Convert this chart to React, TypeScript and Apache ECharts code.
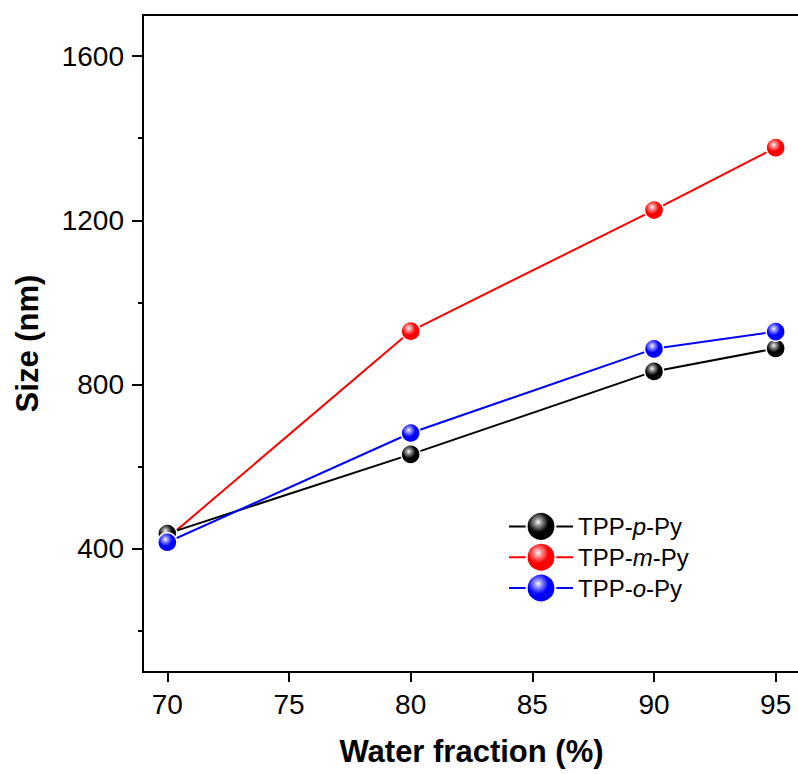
import React, { useEffect, useRef } from "react";
import * as echarts from "echarts";

// Water fraction (%) on the x axis
const waterFraction = [70, 80, 90, 95];
// Particle size (nm) for each compound
const sizePPy = [437, 630, 832, 888];
const sizeMPy = [426, 930, 1225, 1377];
const sizeOPy = [416, 682, 887, 929];

const xTicks = [70, 75, 80, 85, 90, 95];
const yMajorTicks = [400, 800, 1200, 1600];
const yMinorTicks = [200, 600, 1000, 1400];

const FONT = "'Liberation Sans', Arial, sans-serif";

function ball(color: string, glow: string) {
  return {
    type: "radial" as const,
    x: 0.4,
    y: 0.35,
    r: 0.65,
    colorStops: [
      { offset: 0, color: "#ffffff" },
      { offset: 0.18, color: glow },
      { offset: 0.55, color: color },
      { offset: 1, color: color },
    ],
  };
}

function makeSeries(name: string, values: number[], color: string, glow: string, z: number) {
  return {
    name,
    type: "line",
    z,
    data: waterFraction.map((x, i) => [x, values[i]]),
    symbol: "circle",
    symbolSize: 19,
    lineStyle: { color, width: 2 },
    itemStyle: { color: ball(color, glow), borderColor: "#ffffff", borderWidth: 1.5 },
    emphasis: { disabled: true },
  };
}

export default function App() {
  const ref = useRef<HTMLDivElement>(null);

  useEffect(() => {
    if (!ref.current) return;
    const chart = echarts.init(ref.current, undefined, { renderer: "svg" });
    chart.setOption({
      animation: false,
      backgroundColor: "#ffffff",
      grid: {
        left: 143,
        top: 15,
        width: 657,
        height: 657,
        show: true,
        borderColor: "#000",
        borderWidth: 2,
        outerBoundsMode: "none",
        containLabel: false,
      },
      legend: {
        data: ["TPP-p-Py", "TPP-m-Py", "TPP-o-Py"],
        orient: "vertical",
        left: 503,
        top: 506,
        itemWidth: 64,
        itemHeight: 36,
        itemGap: 0,
        formatter: (n: string) => {
          const mid = n.split("-")[1];
          return "TPP-{i|" + mid + "}-Py";
        },
        textStyle: {
          fontFamily: FONT,
          fontSize: 24,
          color: "#000",
          rich: { i: { fontStyle: "italic", fontFamily: FONT, fontSize: 24, color: "#000" } },
        },
      },
      xAxis: {
        type: "value",
        min: 69,
        max: 96,
        name: "Water fraction (%)",
        nameLocation: "middle",
        nameGap: 64,
        nameTextStyle: { fontFamily: FONT, fontSize: 31, fontWeight: "bold", color: "#000" },
        axisLine: { show: true, lineStyle: { color: "#000", width: 2 } },
        axisTick: { show: true, length: 10, lineStyle: { color: "#000", width: 2 }, customValues: xTicks },
        axisLabel: { fontFamily: FONT, fontSize: 28, color: "#000", margin: 18, customValues: xTicks },
        splitLine: { show: false },
      },
      yAxis: [
        {
          type: "value",
          min: 100,
          max: 1700,
          name: "Size (nm)",
          nameLocation: "middle",
          nameGap: 100,
          nameTextStyle: { fontFamily: FONT, fontSize: 31, fontWeight: "bold", color: "#000" },
          axisLine: { show: true, lineStyle: { color: "#000", width: 2 } },
          axisTick: { show: true, length: 11, lineStyle: { color: "#000", width: 2 }, customValues: yMajorTicks },
          axisLabel: {
            fontFamily: FONT,
            fontSize: 28,
            color: "#000",
            margin: 19,
            customValues: yMajorTicks,
            formatter: (v: number) => String(v),
          },
          splitLine: { show: false },
        },
        {
          type: "value",
          min: 100,
          max: 1700,
          position: "left",
          axisLine: { show: false },
          axisTick: { show: true, length: 5, lineStyle: { color: "#000", width: 2 }, customValues: yMinorTicks },
          axisLabel: { show: false },
          splitLine: { show: false },
        },
      ],
      series: [
        makeSeries("TPP-m-Py", sizeMPy, "#ff0000", "#ff9a9a", 1),
        makeSeries("TPP-p-Py", sizePPy, "#000000", "#9a9a9a", 2),
        makeSeries("TPP-o-Py", sizeOPy, "#0000ff", "#9a9aff", 3),
      ],
    });
    return () => chart.dispose();
  }, []);

  return (
    <div
      ref={ref}
      style={{ position: "fixed", left: 0, top: 0, width: 798, height: 774, background: "#fff" }}
    />
  );
}
